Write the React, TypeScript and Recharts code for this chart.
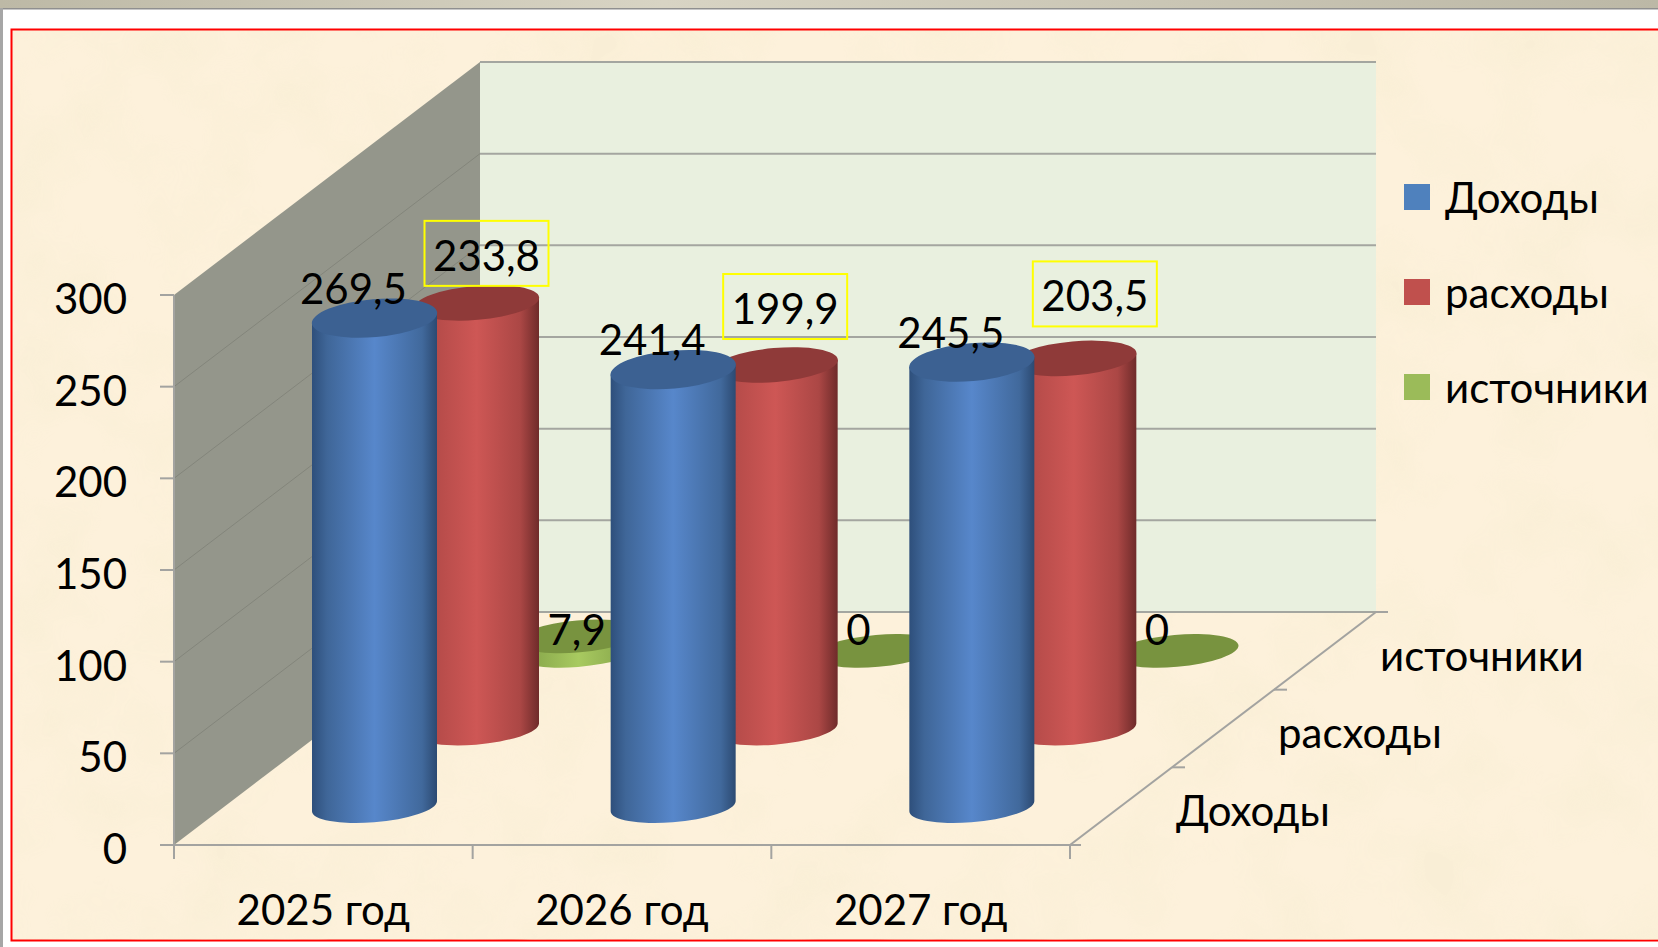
import React from "react";
import { Bar, BarChart, LabelList, Legend, XAxis, YAxis } from "recharts";

const years = ["2025 год", "2026 год", "2027 год"];
const income = [269.5, 241.4, 245.5];
const expenses = [233.8, 199.9, 203.5];
const sources = [7.9, 0, 0];
const seriesNames = ["Доходы", "расходы", "источники"];
const yTicks = [0, 50, 100, 150, 200, 250, 300];

const rows = years.map((year, i) => ({
  year,
  income: income[i],
  expenses: expenses[i],
  sources: sources[i],
}));

// front plane of the oblique 3d box
const LEFT = 174;
const RIGHT = 1070;
const TOP = 295;
const BOTTOM = 845;
const DEPTH_X = 306;
const DEPTH_Y = 233;
const FONT = "Lato, 'Open Sans', sans-serif";
const FONT_SIZE = 42;
const AXIS = "#a3a3a0";

const depthOf = [1 / 6, 3 / 6, 5 / 6];
const legendColors = ["#4f81bd", "#c0504d", "#9bbb59"];
const topColors = ["#3c6192", "#8f3a39", "#78933f"];
const topRadius = [19, 17, 16];
const topSink = [6, 3, 0];

// hand placed value boxes of the "расходы" series, relative to the cylinder top
const expenseBoxShift = [
  { dx: 10, dy: -47 },
  { dx: 10, dy: -56 },
  { dx: 21, dy: -62 },
];

const yOf = (v: number) => BOTTOM - ((BOTTOM - TOP) * v) / 300;
const fmt = (v: number) => String(v).replace(".", ",");

const Cylinder = (props: any, series: number) => {
  const { x, y, width, height } = props;
  const dx = DEPTH_X * depthOf[series];
  const dy = -DEPTH_Y * depthOf[series];
  const l = x + dx;
  const r = l + width;
  const cx = l + width / 2;
  const bottom = y + dy + height;
  const top = y + dy + (height > 0 ? topSink[series] : 0);
  const rx = width / 2;
  const tilt = 5;
  const side = `M${l} ${top + tilt} L${l} ${bottom + tilt} A${rx} 16 -5 0 0 ${r} ${bottom - tilt} L${r} ${top - tilt} Z`;
  return (
    <g>
      {height > 0 && <path d={side} fill={`url(#cyl${series})`} />}
      <ellipse
        cx={cx}
        cy={top}
        rx={rx + 0.4}
        ry={topRadius[series]}
        fill={topColors[series]}
        transform={`rotate(-5 ${cx} ${top})`}
      />
    </g>
  );
};

const textStyle = { fontFamily: FONT, fontSize: FONT_SIZE, fill: "#000" };

const BlueLabel = (props: any) => {
  const { x, y, width, value } = props;
  const cx = x + DEPTH_X * depthOf[0] + width / 2;
  const top = y - DEPTH_Y * depthOf[0];
  return (
    <text x={cx - 21} y={top - 23} dy="0.35em" textAnchor="middle" style={textStyle}>
      {fmt(value)}
    </text>
  );
};

const RedLabel = (props: any) => {
  const { x, y, width, value, index } = props;
  const cx = x + DEPTH_X * depthOf[1] + width / 2 + expenseBoxShift[index].dx;
  const cy = y - DEPTH_Y * depthOf[1] + expenseBoxShift[index].dy;
  return (
    <g>
      <rect x={cx - 62} y={cy - 32} width={124} height={65} fill="none" stroke="#ffff00" strokeWidth={2} />
      <text x={cx} y={cy + 3} dy="0.35em" textAnchor="middle" style={textStyle}>
        {fmt(value)}
      </text>
    </g>
  );
};

// these sit at one height over the floor, whatever the value is
const GreenLabel = (props: any) => {
  const { x, y, width, height, value } = props;
  const cx = x + DEPTH_X * depthOf[2] + width / 2;
  const base = y + height - DEPTH_Y * depthOf[2];
  return (
    <text x={cx - 31} y={base - 21} dy="0.35em" textAnchor="start" style={textStyle}>
      {fmt(value)}
    </text>
  );
};

const Defs = () => (
  <defs>
    <linearGradient id="cyl0" x1="0" y1="0" x2="1" y2="0">
      <stop offset="0" stopColor="#2e4f7b" />
      <stop offset="0.12" stopColor="#3f6698" />
      <stop offset="0.5" stopColor="#5787cb" />
      <stop offset="0.88" stopColor="#41699c" />
      <stop offset="1" stopColor="#2c4a72" />
    </linearGradient>
    <linearGradient id="cyl1" x1="0" y1="0" x2="1" y2="0">
      <stop offset="0" stopColor="#a84543" />
      <stop offset="0.5" stopColor="#ce5755" />
      <stop offset="0.85" stopColor="#ab4745" />
      <stop offset="1" stopColor="#6f2b2a" />
    </linearGradient>
    <linearGradient id="cyl2" x1="0" y1="0" x2="1" y2="0">
      <stop offset="0" stopColor="#7e9c45" />
      <stop offset="0.5" stopColor="#a8ca60" />
      <stop offset="1" stopColor="#7e9c45" />
    </linearGradient>
  </defs>
);

// walls, gridlines and the depth axis of the 3d box
const Box = () => {
  const backL = LEFT + DEPTH_X;
  const backR = RIGHT + DEPTH_X;
  const floorBack = BOTTOM - DEPTH_Y;
  const catW = (RIGHT - LEFT) / years.length;
  return (
    <g>
      <Defs />
      <polygon
        points={`${LEFT},${TOP} ${backL},${TOP - DEPTH_Y} ${backL},${floorBack} ${LEFT},${BOTTOM}`}
        fill="#94968b"
      />
      <rect x={backL} y={TOP - DEPTH_Y} width={backR - backL} height={BOTTOM - TOP} fill="#e9f0df" />
      {yTicks.map((t) => (
        <g key={t}>
          {t > 0 && t < 300 && (
            <line
              x1={LEFT}
              y1={yOf(t)}
              x2={backL}
              y2={yOf(t) - DEPTH_Y}
              stroke="#83857b"
              strokeWidth={1}
            />
          )}
          <line
            x1={backL}
            y1={yOf(t) - DEPTH_Y}
            x2={backR}
            y2={yOf(t) - DEPTH_Y}
            stroke="#a4a6a0"
            strokeWidth={2}
          />
        </g>
      ))}
      <line x1={LEFT} y1={TOP} x2={LEFT} y2={BOTTOM} stroke={AXIS} strokeWidth={2} />
      <line x1={RIGHT} y1={BOTTOM} x2={backR} y2={floorBack} stroke={AXIS} strokeWidth={2} />
      <line x1={backR} y1={floorBack} x2={backR + 12} y2={floorBack} stroke={AXIS} strokeWidth={2} />
      {years.map((_, i) => (
        <line
          key={i}
          x1={LEFT + catW * i}
          y1={BOTTOM}
          x2={LEFT + catW * i}
          y2={BOTTOM + 14}
          stroke={AXIS}
          strokeWidth={2}
        />
      ))}
      <line x1={RIGHT} y1={BOTTOM} x2={RIGHT} y2={BOTTOM + 14} stroke={AXIS} strokeWidth={2} />
      <line x1={RIGHT} y1={BOTTOM} x2={RIGHT + 11} y2={BOTTOM} stroke={AXIS} strokeWidth={2} />
      {[1 / 3, 2 / 3].map((f) => (
        <line
          key={f}
          x1={RIGHT + DEPTH_X * f}
          y1={BOTTOM - DEPTH_Y * f}
          x2={RIGHT + DEPTH_X * f + 13}
          y2={BOTTOM - DEPTH_Y * f}
          stroke={AXIS}
          strokeWidth={2}
        />
      ))}
      {seriesNames.map((name, i) => (
        <text
          key={name}
          x={RIGHT + DEPTH_X * depthOf[i] + 55}
          y={BOTTOM - DEPTH_Y * depthOf[i] + 5}
          dy="0.35em"
          style={textStyle}
        >
          {name}
        </text>
      ))}
    </g>
  );
};

const LegendBox = () => (
  <div style={{ fontFamily: FONT, fontSize: FONT_SIZE, color: "#000", whiteSpace: "nowrap" }}>
    {seriesNames.map((name, i) => (
      <div key={name} style={{ display: "flex", alignItems: "center", height: 95 }}>
        <span style={{ width: 26, height: 26, background: legendColors[i], marginRight: 15, flex: "none" }} />
        <span>{name}</span>
      </div>
    ))}
  </div>
);

const Paper = () => (
  <svg width={1658} height={947} style={{ position: "absolute", left: 0, top: 0 }}>
    <defs>
      <linearGradient id="strip" x1="0" y1="0" x2="1" y2="0">
        <stop offset="0" stopColor="#bdb9a6" />
        <stop offset="0.4" stopColor="#d8d4c4" />
        <stop offset="1" stopColor="#bcb8a6" />
      </linearGradient>
      <filter id="mottle" x="0" y="0" width="100%" height="100%">
        <feTurbulence type="fractalNoise" baseFrequency="0.012" numOctaves="3" seed="7" />
        <feColorMatrix values="0 0 0 0 0.93  0 0 0 0 0.85  0 0 0 0 0.65  2.5 0 0 0 -1" />
      </filter>
    </defs>
    <rect width={1658} height={947} fill="#fff" />
    <rect width={1658} height={8} fill="url(#strip)" />
    <rect y={8} width={1658} height={1.5} fill="#8f8f8f" />
    <rect y={8} width={3} height={939} fill="#a6a6a6" />
    <rect x={11.5} y={29.5} width={1660} height={911} fill="#fdf1db" stroke="#ff0000" strokeWidth={2} />
    <rect x={13} y={31} width={1645} height={909} filter="url(#mottle)" opacity={0.5} />
  </svg>
);

export default function App() {
  return (
    <div style={{ position: "absolute", left: 0, top: 0, width: 1658, height: 947, overflow: "hidden" }}>
      <Paper />
      <div style={{ position: "absolute", left: 0, top: 0 }}>
        <BarChart
          width={1658}
          height={947}
          data={rows}
          barSize={125}
          margin={{ top: TOP, right: 1658 - RIGHT, bottom: 0, left: 0 }}
        >
          <Box />
          <XAxis
            dataKey="year"
            xAxisId="front"
            height={947 - BOTTOM}
            axisLine={{ stroke: AXIS, strokeWidth: 2 }}
            tickLine={false}
            tickMargin={44}
            interval={0}
            tick={{ fontFamily: FONT, fontSize: FONT_SIZE, fill: "#000" }}
          />
          <XAxis dataKey="year" xAxisId="middle" height={0} hide />
          <XAxis dataKey="year" xAxisId="back" height={0} hide />
          <YAxis
            domain={[0, 300]}
            ticks={yTicks}
            width={LEFT}
            interval={0}
            axisLine={false}
            tickSize={14}
            tickMargin={33}
            tickLine={{ stroke: AXIS, strokeWidth: 2 }}
            tick={{ fontFamily: FONT, fontSize: FONT_SIZE, fill: "#000", dy: 4 }}
          />
          <Bar
            dataKey="sources"
            name={seriesNames[2]}
            xAxisId="back"
            fill={legendColors[2]}
            isAnimationActive={false}
            shape={(p: any) => Cylinder(p, 2)}
          >
            <LabelList dataKey="sources" content={GreenLabel} />
          </Bar>
          <Bar
            dataKey="expenses"
            name={seriesNames[1]}
            xAxisId="middle"
            fill={legendColors[1]}
            isAnimationActive={false}
            shape={(p: any) => Cylinder(p, 1)}
          >
            <LabelList dataKey="expenses" content={RedLabel} />
          </Bar>
          <Bar
            dataKey="income"
            name={seriesNames[0]}
            xAxisId="front"
            fill={legendColors[0]}
            isAnimationActive={false}
            shape={(p: any) => Cylinder(p, 0)}
          >
            <LabelList dataKey="income" content={BlueLabel} />
          </Bar>
          <Legend
            layout="vertical"
            align="center"
            verticalAlign="middle"
            content={LegendBox}
            wrapperStyle={{ position: "absolute", left: 1404, top: 149, width: 254 }}
          />
        </BarChart>
      </div>
    </div>
  );
}
